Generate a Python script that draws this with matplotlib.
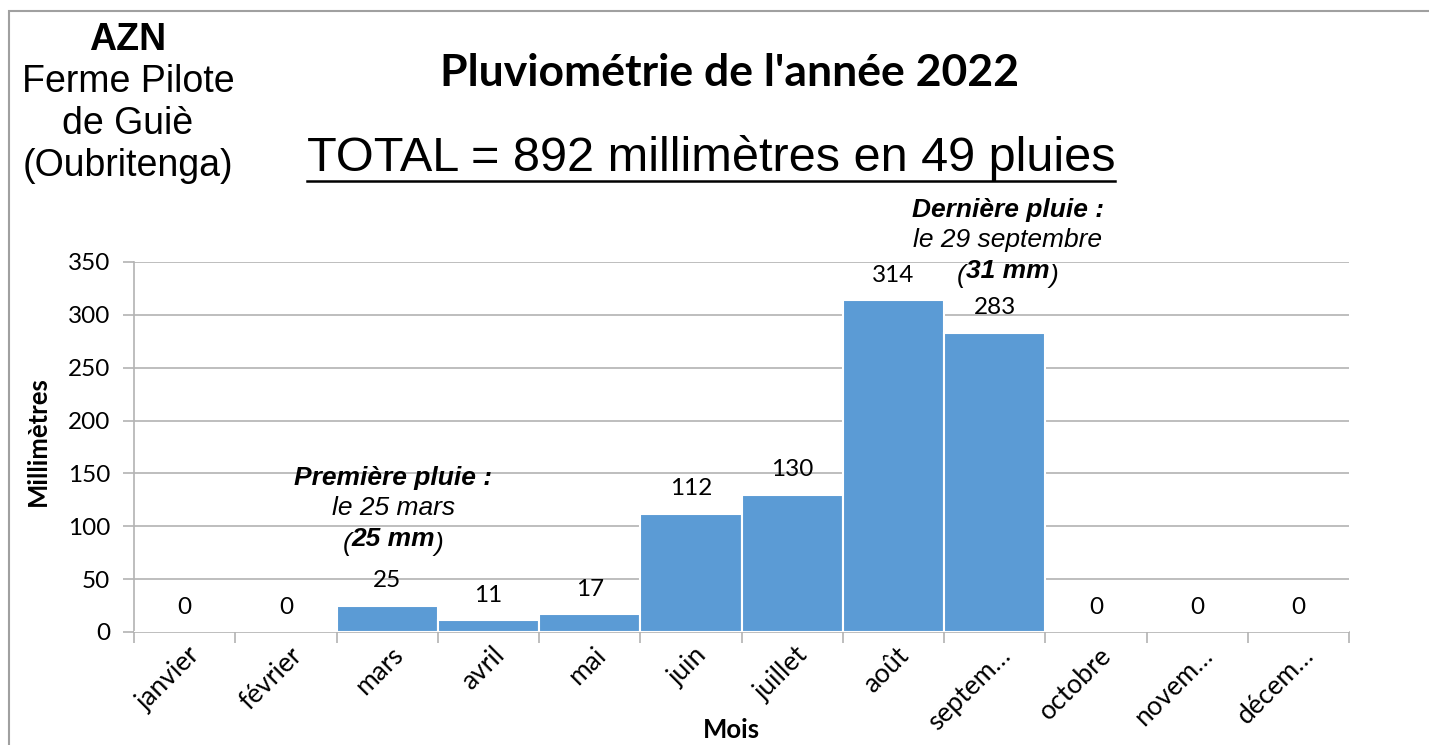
import matplotlib
matplotlib.use("Agg")
import matplotlib.pyplot as plt
from matplotlib.lines import Line2D
from matplotlib.patches import Rectangle
from matplotlib.transforms import ScaledTranslation

months = ["janvier", "février", "mars", "avril", "mai", "juin", "juillet",
          "août", "septem…", "octobre", "novem…", "décem…"]
rain_mm = [0, 0, 25, 11, 17, 112, 130, 314, 283, 0, 0, 0]
y_ticks = [0, 50, 100, 150, 200, 250, 300, 350]

BAR = "#5B9BD5"
GRID = "#B3B3B3"
UI = "Lato"
ARIAL = "Liberation Sans"
TICK_FS = 17.5

fig = plt.figure(figsize=(14.29, 7.45), dpi=100)
ax = fig.add_axes([134 / 1429, 1 - 632 / 745, 1215 / 1429, 370 / 745])

x = list(range(len(months)))
ax.bar(x, rain_mm, width=1.0, color=BAR, edgecolor="white", linewidth=1.5, zorder=3)
for xi, v in zip(x, rain_mm):
    ax.annotate(str(v), (xi, v), xytext=(0, 25), textcoords="offset pixels",
                ha="center", va="center", fontsize=TICK_FS, family=UI)

ax.set_xlim(-0.5, 11.5)
ax.set_ylim(0, 350)
ax.set_yticks(y_ticks)
ax.grid(axis="y", color=GRID, linewidth=1.2, zorder=0)
for s in ["top", "right"]:
    ax.spines[s].set_visible(False)
for s in ["left", "bottom"]:
    ax.spines[s].set_color(GRID)
    ax.spines[s].set_linewidth(1.2)

ax.set_xticks([i - 0.5 for i in range(13)])
ax.set_xticklabels([])
ax.set_xticks(x, minor=True)
ax.set_xticklabels(months, minor=True, rotation=45, ha="right", va="center",
                   rotation_mode="anchor", fontsize=19, family=UI)
ax.tick_params(axis="x", which="major", length=8, color=GRID, width=1.2)
ax.tick_params(axis="x", which="minor", length=0, pad=14)
ax.tick_params(axis="y", length=8, color=GRID, width=1.2, labelsize=TICK_FS, pad=9)
for lab in ax.get_yticklabels():
    lab.set_family(UI)
# Excel puts the end of the slanted label a little right of the category centre
shift = ScaledTranslation(12 / 100, 0, fig.dpi_scale_trans)
for lab in ax.get_xticklabels(minor=True):
    lab.set_transform(lab.get_transform() + shift)

ax.set_ylabel("Millimètres", fontsize=18.5, fontweight="bold", family=UI)
ax.yaxis.set_label_coords(-84 / 1215, 0.515)
ax.set_xlabel("Mois", fontsize=18.5, fontweight="bold", family=UI, va="center")
ax.xaxis.set_label_coords(597 / 1215, -98 / 370)

# annotations for first / last rain
def rain_note(xc, ys, head, date, amount):
    ax.text(xc, ys[0], head, ha="center", va="center", fontsize=19,
            family=ARIAL, style="italic", fontweight="bold", clip_on=False)
    ax.text(xc, ys[1], date, ha="center", va="center", fontsize=19,
            family=ARIAL, style="italic", clip_on=False)
    mid = ax.text(xc, ys[2], amount, ha="center", va="center", fontsize=19,
                  family=ARIAL, style="italic", fontweight="bold", clip_on=False)
    ax.annotate("(", xy=(0, 0), xycoords=mid, ha="right", va="baseline",
                fontsize=19, family=ARIAL, style="italic")
    ax.annotate(")", xy=(1, 0), xycoords=mid, ha="left", va="baseline",
                fontsize=19, family=ARIAL, style="italic")

rain_note(2.06, (145.5, 117, 87.5), "Première pluie :", "le 25 mars", "25 mm")
rain_note(8.13, (399, 371, 341.5), "Dernière pluie :", "le 29 septembre", "31 mm")

# titles
fig.text(730 / 1429, 1 - 73 / 745, "Pluviométrie de l'année 2022", ha="center",
         va="center", fontsize=32, fontweight="bold", family=UI)
total = fig.text(711 / 1429, 1 - 158 / 745, "TOTAL = 892 millimètres en 49 pluies",
                 ha="center", va="center", fontsize=35, family=ARIAL)

side = ["AZN", "Ferme Pilote", "de Guiè", "(Oubritenga)"]
for i, line in enumerate(side):
    fig.text(128 / 1429, 1 - (40 + 42 * i) / 745, line, ha="center", va="center",
             fontsize=27, family=ARIAL, fontweight="bold" if i == 0 else "normal")

# outer frame
fig.add_artist(Rectangle((9 / 1429, -0.05), 1.1, 0.05 + 1 - 11 / 745,
                         transform=fig.transFigure, fill=False,
                         edgecolor="#A0A0A0", linewidth=1.5))

# underline the total
fig.canvas.draw()
bb = total.get_window_extent().transformed(fig.transFigure.inverted())
uy = 1 - 181 / 745
fig.add_artist(Line2D([bb.x0, bb.x1], [uy, uy], transform=fig.transFigure,
                      color="black", linewidth=1.8))

fig.savefig("out.png", dpi=100)
